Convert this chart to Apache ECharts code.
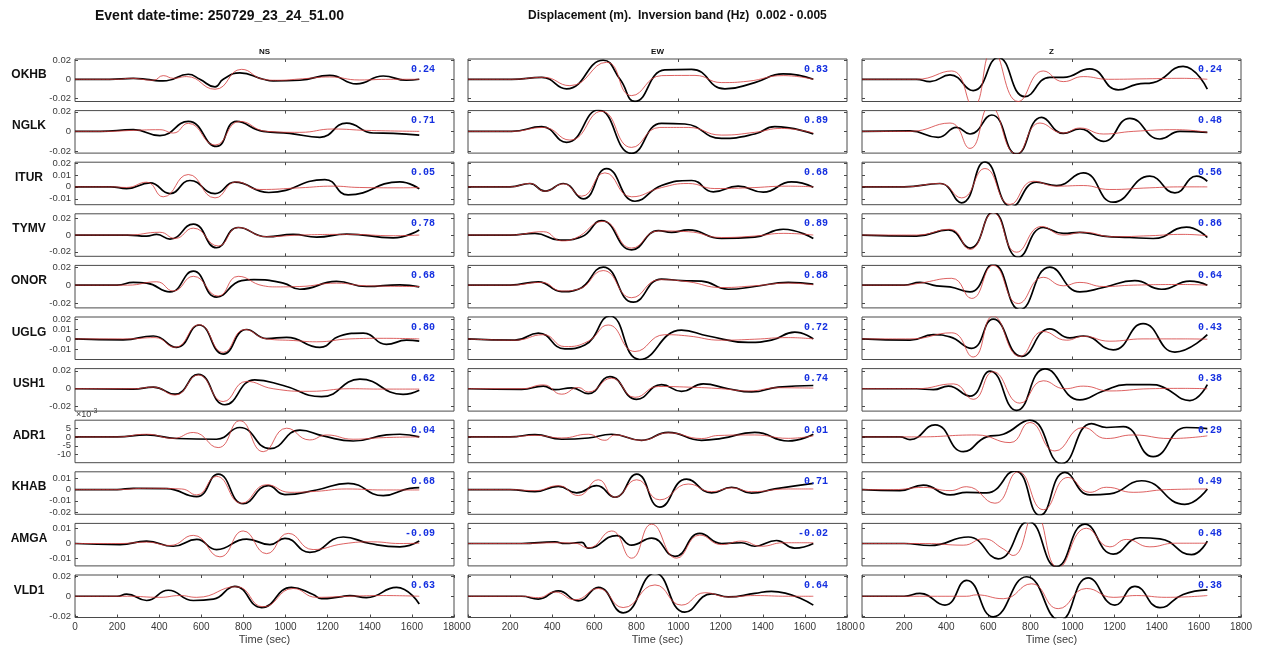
<!DOCTYPE html>
<html><head><meta charset="utf-8">
<script src="https://cdn.jsdelivr.net/npm/echarts@6/dist/echarts.min.js"></script>
<style>html,body{margin:0;padding:0;background:#fff}#c{width:1262px;height:650px}</style>
</head><body><div id="c"></div><script>
// ---------- categories / labels ----------
const stations = ['OKHB','NGLK','ITUR','TYMV','ONOR','UGLG','USH1','ADR1','KHAB','AMGA','VLD1'];
const components = ['NS','EW','Z'];
const timeTicks = [0,200,400,600,800,1000,1200,1400,1600,1800];
const corr_NS = [0.24,0.71,0.05,0.78,0.68,0.80,0.62,0.04,0.68,-0.09,0.63];
const corr_EW = [0.83,0.89,0.68,0.89,0.88,0.72,0.74,0.01,0.71,-0.02,0.64];
const corr_Z  = [0.24,0.48,0.56,0.86,0.64,0.43,0.38,0.29,0.49,0.48,0.38];
// y limits per station row (m) and tick values
const yMin = [-0.023,-0.0222,-0.0149,-0.0253,-0.025,-0.0206,-0.025,-0.0145,-0.022,-0.0148,-0.0216];
const yMax = [0.021,0.0212,0.0206,0.0253,0.0217,0.0219,0.0225,0.0094,0.0159,0.0133,0.0216];
const yTicks = [
  [-0.02,0,0.02],[-0.02,0,0.02],[-0.01,0,0.01,0.02],[-0.02,0,0.02],[-0.02,0,0.02],
  [-0.01,0,0.01,0.02],[-0.02,0,0.02],[-0.01,-0.005,0,0.005],[-0.02,-0.01,0,0.01],
  [-0.01,0,0.01],[-0.02,0,0.02]
];

// ---------- waveforms [time s, displacement m]; obs = black, syn = red ----------
const obs_OKHB_NS = [[0,0],[165,0],[277,0.001],[340,0],[400,-0.0017],[435,-0.0015],[538,0.0052],[593,0],[665,-0.0079],[704,0],[783,0.0066],[894,0],[941,-0.0017],[1068,-0.001],[1210,0.0041],[1337,-0.0048],[1464,0.0034],[1574,-0.001],[1635,0]];
const syn_OKHB_NS = [[0,0],[200,0],[262,0.001],[372,-0.001],[419,0.0038],[467,0.001],[530,0.0028],[665,-0.0103],[791,0.0103],[894,0],[957,-0.001],[1080,0.0005],[1210,0.0024],[1350,-0.0007],[1500,0],[1635,0]];
const obs_OKHB_EW = [[0,0],[207,0],[350,0.002],[468,-0.01],[642,0.0197],[722,0],[793,-0.0228],[935,0.0097],[1062,0.0103],[1220,-0.01],[1362,-0.0034],[1497,0.0055],[1640,0]];
const syn_OKHB_EW = [[0,0],[207,0],[358,0.002],[484,-0.0066],[658,0.0176],[777,-0.0169],[920,0.0038],[1078,0.004],[1204,-0.0034],[1330,-0.002],[1497,0.0038],[1640,0]];
const obs_OKHB_Z  = [[0,0],[259,0],[323,-0.0024],[418,0.0045],[528,-0.0117],[647,0.0224],[774,-0.018],[892,0.002],[956,0.002],[1082,0.0107],[1217,-0.011],[1304,-0.0052],[1383,-0.0034],[1525,0.0134],[1640,-0.0103]];
const syn_OKHB_Z  = [[0,0],[259,0],[426,0.0086],[528,-0.028],[620,0.03],[742,-0.023],[861,0.0086],[956,-0.0024],[1051,0.0028],[1170,0],[1350,0.0005],[1520,0.001],[1640,0]];

const obs_NGLK_NS = [[0,0],[120,0],[277,0.0017],[403,-0.0044],[538,0.0102],[672,-0.0154],[767,0.0102],[894,0],[1020,-0.002],[1163,-0.0061],[1290,0.0085],[1416,-0.0017],[1511,-0.002],[1635,-0.0038]];
const syn_NGLK_NS = [[0,0],[150,0],[277,0.001],[403,0.0017],[467,-0.0017],[538,0.0082],[665,-0.014],[783,0.0102],[910,0],[1068,-0.001],[1226,0.0024],[1384,0.001],[1635,0]];
const obs_NGLK_EW = [[0,0],[207,0],[350,0.0048],[468,-0.0113],[619,0.0218],[777,-0.0225],[919,0.0082],[1030,0.0075],[1204,-0.0072],[1362,-0.0027],[1457,0.0048],[1640,-0.0027]];
const syn_NGLK_EW = [[0,0],[207,0],[358,0.004],[484,-0.0089],[634,0.0205],[777,-0.0164],[911,0.004],[1046,0.004],[1204,-0.0038],[1362,-0.001],[1489,0.003],[1640,-0.0017]];
const obs_NGLK_Z  = [[0,0],[228,0.0005],[362,-0.0061],[449,0.004],[513,-0.0027],[616,0.0167],[734,-0.0232],[853,0.0143],[956,-0.002],[1035,0.0024],[1146,-0.0102],[1272,0.0133],[1415,-0.0078],[1510,0],[1640,-0.001]];
const syn_NGLK_Z  = [[0,0],[228,0],[418,0.0085],[513,-0.0174],[608,0.026],[734,-0.0232],[845,0.0085],[956,-0.0017],[1035,0.0034],[1146,-0.0027],[1288,0],[1494,0.0017],[1640,-0.001]];

const obs_ITUR_NS = [[0,0],[170,0],[245,-0.0014],[356,0.0033],[451,-0.0056],[546,0.0053],[665,-0.0056],[759,0.0039],[920,-0.0047],[1187,0.0061],[1297,-0.0067],[1543,0.0042],[1635,-0.0017]];
const syn_ITUR_NS = [[0,0],[170,0],[245,-0.0005],[340,0.0039],[419,-0.0083],[538,0.0103],[665,-0.0092],[767,0.0042],[878,-0.0022],[1068,-0.0008],[1226,0.0006],[1350,-0.0005],[1543,-0.0008],[1635,-0.0006]];
const obs_ITUR_EW = [[0,0],[200,0],[294,0.0028],[365,-0.0036],[453,0.0028],[547,-0.01],[658,0.0153],[793,-0.012],[919,0.0011],[1062,0.0053],[1165,-0.0042],[1283,0.0006],[1402,-0.0044],[1536,0.0042],[1640,-0.0003]];
const syn_ITUR_EW = [[0,0],[200,0],[294,0.0028],[365,-0.0036],[453,0.0025],[540,-0.0078],[650,0.0117],[777,-0.0083],[919,-0.0006],[1046,0.0028],[1172,-0.0014],[1331,-0.0008],[1521,0.0006],[1640,0]];
const obs_ITUR_Z  = [[0,0],[200,0],[370,0.0028],[473,-0.0133],[584,0.0208],[710,-0.0167],[829,0.0039],[924,0.0011],[1051,0.0117],[1193,-0.0128],[1367,0.0089],[1486,-0.005],[1589,0.0089],[1640,0.0047]];
const syn_ITUR_Z  = [[0,0],[200,0],[370,0.0028],[473,-0.0092],[584,0.0153],[703,-0.0147],[813,0.0047],[924,0.0006],[1051,0.0011],[1177,-0.0022],[1367,-0.0008],[1525,0],[1640,0]];

const obs_TYMV_NS = [[0,0],[250,0],[340,-0.0012],[388,0.0008],[451,-0.0049],[562,0.0131],[672,-0.0151],[775,0.009],[910,-0.002],[1036,0.0008],[1147,-0.0024],[1290,0.0012],[1511,-0.0033],[1635,0.0061]];
const syn_TYMV_NS = [[0,0],[250,0],[403,0.0033],[475,-0.004],[562,0.0082],[680,-0.013],[775,0.009],[910,-0.002],[1068,0],[1305,0.0008],[1511,-0.0008],[1635,0]];
const obs_TYMV_EW = [[0,0],[200,0],[318,0.002],[437,-0.0061],[540,-0.002],[634,0.0171],[777,-0.0176],[904,0.0053],[967,0.0033],[1046,0.0061],[1204,-0.0041],[1362,-0.0024],[1497,0.0069],[1640,-0.0041]];
const syn_TYMV_EW = [[0,0],[200,0],[358,0.004],[445,-0.0069],[508,-0.004],[642,0.0163],[777,-0.0155],[904,0.0049],[1046,0.004],[1204,-0.0029],[1362,-0.0012],[1497,0.002],[1640,0]];
const obs_TYMV_Z  = [[0,0],[259,-0.0012],[410,0.0061],[513,-0.0155],[623,0.0273],[742,-0.0265],[861,0.009],[956,0.002],[1035,0.0033],[1146,-0.0012],[1272,-0.0029],[1383,-0.0041],[1541,0.0094],[1640,-0.0029]];
const syn_TYMV_Z  = [[0,0],[259,0],[418,0.0069],[513,-0.0171],[623,0.0265],[734,-0.0204],[853,0.0102],[956,0],[1051,0.0033],[1193,-0.002],[1367,-0.0008],[1525,0.0008],[1640,-0.0008]];

const obs_ONOR_NS = [[0,0],[200,0],[277,0.003],[340,0.0022],[451,-0.0075],[562,0.0153],[672,-0.0131],[791,0.0049],[850,0.006],[989,0.0022],[1068,-0.0045],[1242,0.0041],[1384,-0.0015],[1543,0.0004],[1635,-0.0019]];
const syn_ONOR_NS = [[0,0],[250,0],[388,0.0037],[467,-0.0064],[562,0.0097],[680,-0.012],[775,0.0097],[894,-0.0007],[957,-0.0019],[1068,-0.0015],[1242,0.0022],[1384,-0.0007],[1635,-0.0015]];
const obs_ONOR_EW = [[0,0],[200,0],[334,0.0037],[445,-0.0071],[524,-0.0045],[642,0.0198],[785,-0.0187],[919,0.0067],[1014,0.005],[1109,0.0045],[1236,-0.0045],[1362,-0.0015],[1521,0.003],[1640,0.0011]];
const syn_ONOR_EW = [[0,0],[200,0],[350,0.003],[445,-0.0064],[524,-0.0045],[642,0.016],[777,-0.0138],[911,0.006],[1046,0.0037],[1204,-0.0026],[1362,-0.0007],[1521,0.0022],[1640,0.0004]];
const obs_ONOR_Z  = [[0,0],[200,0],[275,0.003],[354,-0.0007],[418,-0.0019],[513,-0.0075],[623,0.0228],[750,-0.0269],[892,0.0198],[1035,-0.0075],[1146,-0.0026],[1296,0.0049],[1422,-0.0045],[1557,0.0045],[1640,0]];
const syn_ONOR_Z  = [[0,0],[200,0],[275,0.0022],[426,0.0075],[521,-0.0146],[623,0.0217],[742,-0.0202],[861,0.0086],[956,-0.0007],[1035,0.003],[1146,-0.0015],[1288,0],[1525,0.0007],[1640,0]];

const obs_UGLG_NS = [[0,0],[229,-0.001],[372,0.0029],[483,-0.0084],[589,0.0139],[704,-0.0152],[815,0.0094],[910,0.0003],[1005,0.0016],[1163,-0.0084],[1258,0.0029],[1369,0.0058],[1479,-0.0055],[1574,-0.0013],[1635,-0.0023]];
const syn_UGLG_NS = [[0,0],[250,0],[380,0.0013],[475,-0.0084],[589,0.0142],[704,-0.0135],[807,0.0094],[910,0],[1036,-0.0016],[1147,-0.0029],[1305,0],[1464,0.0006],[1635,0]];
const obs_UGLG_EW = [[0,0],[223,-0.0013],[334,0.0058],[460,-0.01],[555,-0.0061],[674,0.0229],[816,-0.0206],[1014,0.0087],[1141,0.0029],[1331,-0.0035],[1441,-0.0013],[1552,0.0068],[1640,0]];
const syn_UGLG_EW = [[0,0],[223,-0.0013],[358,0.0042],[460,-0.0077],[571,-0.0023],[666,0.0139],[793,-0.0126],[935,0.0042],[1046,0.0029],[1204,-0.0013],[1362,-0.0003],[1521,0.0013],[1640,0]];
const obs_UGLG_Z  = [[0,0],[228,-0.0013],[339,0.0042],[418,0.002],[521,-0.0094],[623,0.0197],[758,-0.0174],[892,0.01],[987,0.001],[1051,0.0029],[1193,-0.011],[1335,0.0152],[1486,-0.0132],[1640,0.0042]];
const syn_UGLG_Z  = [[0,0],[228,0],[426,0.0061],[528,-0.0181],[623,0.0229],[750,-0.0174],[861,0.0074],[972,-0.0013],[1051,0.0026],[1177,-0.0023],[1335,0],[1525,0],[1640,-0.0003]];

const obs_USH1_NS = [[0,0],[277,-0.0004],[372,0.0018],[475,-0.0061],[585,0.0161],[712,-0.0179],[854,0.01],[989,0.0036],[1171,-0.0089],[1353,0.0107],[1558,-0.0064],[1635,-0.0018]];
const syn_USH1_NS = [[0,0],[277,0],[372,0.0018],[475,-0.0071],[585,0.0154],[704,-0.0143],[815,0.0082],[941,0],[1115,-0.0029],[1305,0],[1464,-0.0004],[1635,-0.0004]];
const obs_USH1_EW = [[0,0],[255,-0.0007],[358,0.0029],[413,-0.0011],[492,0.001],[571,-0.0054],[674,0.0136],[801,-0.0118],[919,0.0046],[1014,-0.0029],[1117,0.0054],[1236,0],[1347,-0.0036],[1473,0.0018],[1640,0.0036]];
const syn_USH1_EW = [[0,0],[255,0],[358,0.0043],[445,-0.0061],[524,0.0014],[571,-0.0036],[682,0.0118],[793,-0.0096],[904,0.0025],[1046,0.0018],[1204,0],[1331,-0.0025],[1473,0.0011],[1640,0.0007]];
const obs_USH1_Z  = [[0,0],[259,0],[339,-0.0011],[410,0.0029],[513,-0.0082],[608,0.0196],[734,-0.0243],[869,0.0221],[1035,-0.0125],[1146,-0.0025],[1256,0.0046],[1367,0.0046],[1430,0.0018],[1557,-0.0132],[1640,0.0046]];
const syn_USH1_Z  = [[0,0],[259,0],[434,0.0054],[528,-0.0118],[623,0.0189],[750,-0.0161],[861,0.0089],[964,0],[1051,0.0029],[1177,-0.0025],[1367,0],[1525,0.0004],[1640,0]];

const obs_ADR1_NS = [[0,0],[200,0],[340,0.0011],[483,-0.0009],[672,-0.0013],[783,0.0053],[926,-0.0066],[1068,0.0038],[1179,0.0006],[1321,-0.0023],[1479,0.0011],[1543,0.0015],[1635,0]];
const syn_ADR1_NS = [[0,0],[200,0],[340,0.0015],[467,-0.0008],[562,0.0025],[680,-0.006],[783,0.0091],[894,-0.0083],[1005,0.0049],[1115,-0.0017],[1195,0.0011],[1321,-0.0013],[1464,-0.0004],[1635,0]];
const obs_ADR1_EW = [[0,0],[200,0],[318,0.0013],[445,-0.0013],[571,-0.0006],[682,0.0015],[824,-0.0019],[951,0.0026],[1109,-0.0019],[1204,-0.0008],[1362,0.0025],[1521,-0.0023],[1640,0.0015]];
const syn_ADR1_EW = [[0,0],[200,0],[318,0.0009],[445,-0.0006],[571,0.0015],[650,-0.0019],[698,0.0011],[824,-0.0019],[951,0.0023],[1109,-0.0009],[1188,0.0008],[1362,0.0011],[1521,-0.0008],[1640,0.0006]];
const obs_ADR1_Z  = [[0,0],[180,0],[228,-0.0015],[347,0.0068],[481,-0.0083],[592,0],[671,0.0015],[797,0.0094],[948,-0.0151],[1090,0.0075],[1161,0.0053],[1241,0.0058],[1383,-0.0111],[1541,0.0053],[1640,0.0047]];
const syn_ADR1_Z  = [[0,0],[259,0],[544,0.0011],[703,-0.0032],[797,0.0081],[916,-0.0079],[1051,0.0053],[1161,-0.0009],[1288,0.0011],[1462,-0.0009],[1640,0.0006]];

const obs_KHAB_NS = [[0,0],[200,0],[277,0.0012],[435,0.0009],[578,-0.0062],[680,0.0138],[799,-0.0126],[918,0.0035],[997,-0.0044],[1147,-0.0003],[1297,0.0056],[1464,-0.0053],[1590,0.0012],[1635,0.0018]];
const syn_KHAB_NS = [[0,0],[200,0],[340,0.0012],[506,0.0006],[578,-0.0047],[672,0.0118],[791,-0.0121],[910,0.0044],[1021,-0.0024],[1147,-0.0015],[1290,0.0006],[1464,-0.0003],[1635,-0.0003]];
const obs_KHAB_EW = [[0,0],[200,0],[318,-0.0018],[429,0.0029],[516,-0.0029],[611,0.0035],[698,-0.0068],[801,0.0138],[911,-0.0156],[1038,0.0094],[1157,-0.0029],[1252,0.0021],[1347,-0.0032],[1457,0.0006],[1640,0.0056]];
const syn_KHAB_EW = [[0,0],[200,0],[318,-0.0009],[429,0.0035],[524,-0.0053],[619,0.0088],[698,-0.0068],[801,0.0088],[911,-0.0091],[1046,0.005],[1157,-0.0018],[1252,0.0015],[1347,-0.0018],[1521,0.0006],[1640,0.0006]];
const obs_KHAB_Z  = [[0,0],[180,-0.0009],[291,0.0041],[418,-0.0047],[497,-0.0024],[592,-0.0029],[726,0.0168],[845,-0.0229],[964,0.0153],[1082,-0.0047],[1177,-0.0038],[1328,0.0079],[1533,-0.0132],[1640,0.0006]];
const syn_KHAB_Z  = [[0,0],[150,0],[291,0.002],[418,-0.0009],[497,0.0026],[631,-0.0121],[742,0.0159],[861,-0.0179],[979,0.0109],[1082,-0.0024],[1161,0.0021],[1288,-0.0024],[1446,0],[1640,0.0006]];

const obs_AMGA_NS = [[0,0],[214,-0.0007],[340,0.0016],[467,-0.0018],[578,0.0027],[672,-0.004],[815,0.0029],[926,-0.0007],[997,0.0034],[1115,-0.0058],[1274,0.0043],[1400,0],[1543,-0.0022],[1635,0.0016]];
const syn_AMGA_NS = [[0,0],[214,0],[340,0.0009],[451,-0.0013],[562,0.0054],[688,-0.0088],[799,0.0083],[910,-0.0067],[1013,0.0067],[1131,-0.004],[1274,-0.0002],[1416,0.0011],[1543,0],[1635,0.0002]];
const obs_AMGA_EW = [[0,0],[255,0],[413,0.0011],[460,0],[540,0.0007],[571,-0.0031],[706,0.0052],[777,-0.0011],[872,0.0036],[983,-0.0085],[1101,0.0067],[1204,0],[1299,0.0005],[1362,-0.0018],[1465,0.002],[1552,-0.0031],[1640,0]];
const syn_AMGA_EW = [[0,0],[255,0],[413,0.0005],[508,0.0002],[571,-0.0029],[682,0.0083],[777,-0.0097],[872,0.0128],[991,-0.0097],[1101,0.0056],[1204,-0.0007],[1299,0.0016],[1394,-0.0018],[1497,0.0005],[1640,0.0005]];
const obs_AMGA_Z  = [[0,0],[200,0],[323,-0.0013],[505,0.0043],[647,-0.0101],[790,0.0146],[924,-0.0153],[1059,0.0128],[1193,-0.007],[1320,0.0038],[1415,0.0031],[1565,-0.0074],[1640,0.0016]];
const syn_AMGA_Z  = [[0,0],[300,0],[481,-0.0011],[576,0.0031],[671,-0.0036],[718,-0.0079],[821,0.02],[932,-0.016],[1066,0.0101],[1177,-0.0022],[1256,0.0027],[1367,-0.0022],[1486,0.0002],[1640,0.0002]];

const obs_VLD1_NS = [[0,0],[200,0],[245,0.0022],[340,-0.0043],[443,0.0061],[562,-0.0043],[657,-0.0029],[759,0.0101],[886,-0.0115],[1028,0.009],[1131,0.0018],[1171,-0.0025],[1258,-0.0007],[1305,0.0007],[1384,-0.0014],[1527,0.009],[1635,-0.0079]];
const syn_VLD1_NS = [[0,0],[250,0],[403,-0.0011],[498,0.0007],[578,-0.0011],[767,0.0097],[894,-0.0108],[1036,0.0079],[1147,-0.0011],[1305,0],[1464,0.0007],[1635,0]];
const obs_VLD1_EW = [[0,0],[255,0],[334,-0.0029],[429,0.0054],[524,-0.0047],[619,0.009],[737,-0.0169],[888,0.0234],[1030,-0.0162],[1157,0.0025],[1236,-0.0007],[1362,0.0029],[1441,0.005],[1640,-0.009]];
const syn_VLD1_EW = [[0,0],[255,0],[334,-0.0014],[413,0.0043],[508,-0.0036],[619,0.0079],[737,-0.0115],[888,0.0115],[1014,-0.009],[1125,0.0036],[1236,-0.0007],[1362,0.0007],[1521,0],[1640,0]];
const obs_VLD1_Z  = [[0,0],[200,0],[275,0.0029],[394,-0.009],[497,0.0162],[623,-0.0209],[782,0.0198],[940,-0.0245],[1074,0.0187],[1201,-0.009],[1296,0.0101],[1415,-0.0115],[1525,0.0018],[1640,0.0065]];
const syn_VLD1_Z  = [[0,0],[300,0],[497,0],[544,0.0014],[671,-0.0025],[805,0.0126],[932,-0.0126],[1066,0.0079],[1193,-0.0011],[1304,0.0007],[1446,-0.0011],[1640,0.0007]];

// ---------- assemble lookup from named arrays ----------
const OBS = {
  OKHB:[obs_OKHB_NS,obs_OKHB_EW,obs_OKHB_Z], NGLK:[obs_NGLK_NS,obs_NGLK_EW,obs_NGLK_Z],
  ITUR:[obs_ITUR_NS,obs_ITUR_EW,obs_ITUR_Z], TYMV:[obs_TYMV_NS,obs_TYMV_EW,obs_TYMV_Z],
  ONOR:[obs_ONOR_NS,obs_ONOR_EW,obs_ONOR_Z], UGLG:[obs_UGLG_NS,obs_UGLG_EW,obs_UGLG_Z],
  USH1:[obs_USH1_NS,obs_USH1_EW,obs_USH1_Z], ADR1:[obs_ADR1_NS,obs_ADR1_EW,obs_ADR1_Z],
  KHAB:[obs_KHAB_NS,obs_KHAB_EW,obs_KHAB_Z], AMGA:[obs_AMGA_NS,obs_AMGA_EW,obs_AMGA_Z],
  VLD1:[obs_VLD1_NS,obs_VLD1_EW,obs_VLD1_Z]
};
const SYN = {
  OKHB:[syn_OKHB_NS,syn_OKHB_EW,syn_OKHB_Z], NGLK:[syn_NGLK_NS,syn_NGLK_EW,syn_NGLK_Z],
  ITUR:[syn_ITUR_NS,syn_ITUR_EW,syn_ITUR_Z], TYMV:[syn_TYMV_NS,syn_TYMV_EW,syn_TYMV_Z],
  ONOR:[syn_ONOR_NS,syn_ONOR_EW,syn_ONOR_Z], UGLG:[syn_UGLG_NS,syn_UGLG_EW,syn_UGLG_Z],
  USH1:[syn_USH1_NS,syn_USH1_EW,syn_USH1_Z], ADR1:[syn_ADR1_NS,syn_ADR1_EW,syn_ADR1_Z],
  KHAB:[syn_KHAB_NS,syn_KHAB_EW,syn_KHAB_Z], AMGA:[syn_AMGA_NS,syn_AMGA_EW,syn_AMGA_Z],
  VLD1:[syn_VLD1_NS,syn_VLD1_EW,syn_VLD1_Z]
};
const CORR = [corr_NS, corr_EW, corr_Z];

// ---------- layout ----------
const colLeft = [75, 468, 862];
const plotW = 379, plotH = 42.5, rowTop0 = 59, rowStep = 51.6;
const FONT = 'Liberation Sans, Arial, Helvetica, sans-serif';
const BOX = '#4a4a4a';
const TXT = '#3a3a3a';

const grids = [], xAxes = [], yAxes = [], series = [], graphics = [];
const nRows = stations.length;

function fmtY(r) {
  if (stations[r] === 'ADR1') return v => String(Math.round(v * 1000));
  return v => String(Math.round(v * 1000) / 1000);
}
const hiddenLine = {show: false, onZero: false};
function yLabelAxis(g, r, vals) {
  return {gridIndex: g, type: 'value', min: yMin[r], max: yMax[r], position: 'left',
    axisLine: hiddenLine, splitLine: {show: false}, axisTick: {show: false},
    axisLabel: {show: true, customValues: vals, formatter: fmtY(r), margin: 4,
      showMinLabel: true, showMaxLabel: true, hideOverlap: false,
      fontSize: 9.5, color: TXT, fontFamily: FONT}};
}

stations.forEach((st, r) => {
  const top = rowTop0 + r * rowStep;
  const isBottom = r === nRows - 1;
  const xt = isBottom ? timeTicks : [1000];
  // tight label spacing (ADR1): split labels over two axes so none get dropped
  const split = st === 'ADR1';
  components.forEach((comp, c) => {
    const g = grids.length;
    grids.push({left: colLeft[c], top: top, width: plotW, height: plotH, show: true,
      borderColor: BOX, borderWidth: 1, backgroundColor: '#fff'});
    const xi = xAxes.length;
    xAxes.push({gridIndex: g, type: 'value', min: 0, max: 1800, position: 'bottom',
      axisLine: hiddenLine, splitLine: {show: false},
      axisTick: {show: true, inside: true, length: 3, lineStyle: {color: BOX}, customValues: xt},
      axisLabel: {show: isBottom, customValues: timeTicks, margin: 5, fontSize: 10, hideOverlap: false,
        color: TXT, fontFamily: FONT, formatter: v => String(v), showMinLabel: true, showMaxLabel: true},
      name: isBottom ? 'Time (sec)' : '', nameLocation: 'middle', nameGap: 17,
      nameTextStyle: {fontSize: 11, color: TXT, fontFamily: FONT}});
    xAxes.push({gridIndex: g, type: 'value', min: 0, max: 1800, position: 'top',
      axisLine: hiddenLine, splitLine: {show: false}, axisLabel: {show: false},
      axisTick: {show: true, inside: true, length: 3, lineStyle: {color: BOX}, customValues: xt}});
    const yi = yAxes.length;
    yAxes.push({gridIndex: g, type: 'value', min: yMin[r], max: yMax[r], position: 'left',
      axisLine: hiddenLine, splitLine: {show: false},
      axisTick: {show: true, inside: true, length: 3, lineStyle: {color: BOX}, customValues: yTicks[r]},
      axisLabel: {show: c === 0 && !split, customValues: yTicks[r], formatter: fmtY(r), margin: 4,
        showMinLabel: true, showMaxLabel: true, hideOverlap: false,
        fontSize: 9.5, color: TXT, fontFamily: FONT}});
    yAxes.push({gridIndex: g, type: 'value', min: yMin[r], max: yMax[r], position: 'right',
      axisLine: hiddenLine, splitLine: {show: false}, axisLabel: {show: false},
      axisTick: {show: true, inside: true, length: 3, lineStyle: {color: BOX}, customValues: yTicks[r]}});
    if (split && c === 0) {
      yAxes.push(yLabelAxis(g, r, yTicks[r].filter((v, i) => i % 2 === 0)));
      yAxes.push(yLabelAxis(g, r, yTicks[r].filter((v, i) => i % 2 === 1)));
    }
    series.push({type: 'line', xAxisIndex: xi, yAxisIndex: yi, data: OBS[st][c],
      showSymbol: false, smooth: 0.5, silent: true, z: 2,
      lineStyle: {color: '#000', width: 1.7}});
    series.push({type: 'line', xAxisIndex: xi, yAxisIndex: yi, data: SYN[st][c],
      showSymbol: false, smooth: 0.5, silent: true, z: 3,
      lineStyle: {color: '#d43a3a', width: 0.8}});
    graphics.push({type: 'text', x: colLeft[c] + 360, y: top + 10, z: 10, silent: true,
      style: {text: CORR[c][r].toFixed(2), fill: '#1530e0',
        font: 'bold 10px "Liberation Mono", "DejaVu Sans Mono", monospace',
        align: 'right', verticalAlign: 'middle'}});
  });
  graphics.push({type: 'text', x: 29, y: top + plotH / 2 - 6, z: 10,
    style: {text: st, fill: '#111', font: 'bold 12px ' + FONT, align: 'center', verticalAlign: 'middle'}});
});

components.forEach((comp, c) => {
  graphics.push({type: 'text', x: colLeft[c] + plotW / 2, y: 52, z: 10,
    style: {text: comp, fill: '#111', font: 'bold 8px ' + FONT, align: 'center', verticalAlign: 'middle'}});
});
graphics.push({type: 'text', x: 95, y: 16, z: 10,
  style: {text: 'Event date-time: 250729_23_24_51.00', fill: '#111', font: 'bold 14px ' + FONT, verticalAlign: 'middle'}});
graphics.push({type: 'text', x: 528, y: 16, z: 10,
  style: {text: 'Displacement (m).  Inversion band (Hz)  0.002 - 0.005', fill: '#111', font: 'bold 12px ' + FONT, verticalAlign: 'middle'}});
// x10^-3 multiplier for ADR1 row
const adrTop = rowTop0 + stations.indexOf('ADR1') * rowStep;
graphics.push({type: 'text', x: 76, y: adrTop - 6, z: 10,
  style: {rich: {a: {fontSize: 9, fill: TXT, fontFamily: FONT}, b: {fontSize: 7, fill: TXT, fontFamily: FONT, verticalAlign: 'top', padding: [0,0,6,0]}},
    text: '{a|\u00d710}{b|-3}', verticalAlign: 'middle'}});

const chart = echarts.init(document.getElementById('c'), null, {renderer: 'canvas'});
chart.setOption({
  backgroundColor: '#fff', animation: false,
  grid: grids, xAxis: xAxes, yAxis: yAxes, series: series, graphic: graphics
});
</script></body></html>
